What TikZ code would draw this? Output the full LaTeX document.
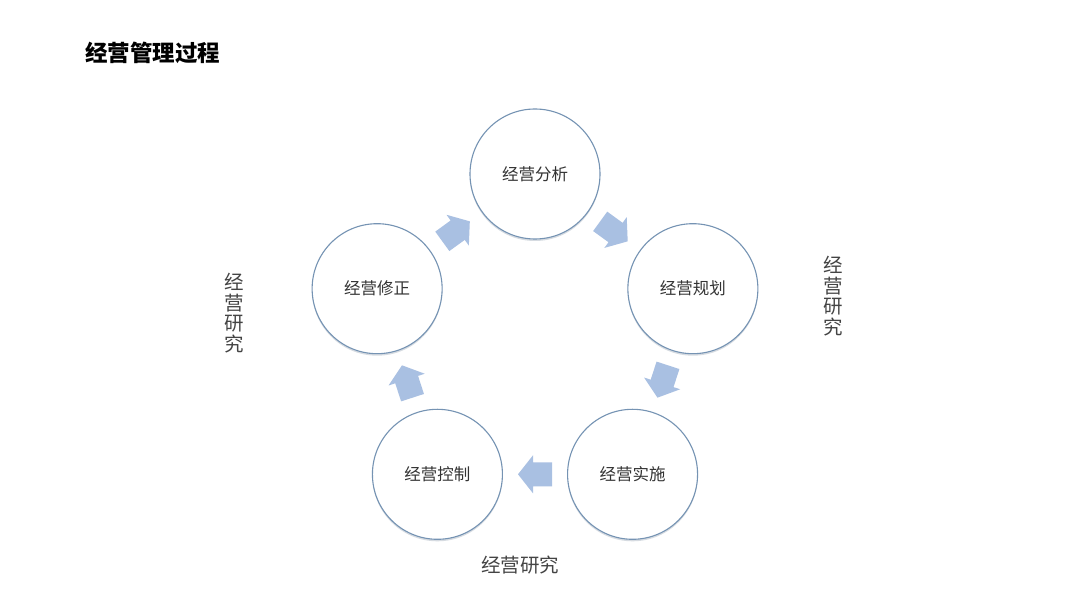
\documentclass[tikz,border=0pt]{standalone}
\usepackage{fontspec}
\setmainfont{Noto Sans CJK SC}
\newfontfamily\cjk{Noto Sans CJK SC}
\usetikzlibrary{shadows,calc}
\definecolor{ringc}{HTML}{7593B3}
\definecolor{arrowc}{HTML}{A9C0E2}
\definecolor{txtc}{HTML}{333333}
\definecolor{sidec}{HTML}{444444}
\tikzset{
  stage/.style={circle, draw=ringc, line width=1.1pt, fill=white, minimum size=130pt, inner sep=0pt,
    font=\cjk\fontsize{16.5}{19}\selectfont, text=txtc,
    drop shadow={shadow xshift=0pt, shadow yshift=-2pt, fill=ringc!60!gray, opacity=0.3}},
  blockarrow/.style={fill=arrowc, draw=none},
  sidetext/.style={font=\cjk\fontsize{19.5}{20.5}\selectfont, text=sidec, align=center, inner sep=0pt},
}
\newcommand{\cyclearrow}[3]{%
  \path[blockarrow, shift={($(#1)!0.5!(#2)$)}, rotate=#3]
    (-17,-12) -- (2,-12) -- (2,-19) -- (17,0) -- (2,19) -- (2,12) -- (-17,12) -- cycle;}
\begin{document}
\begin{tikzpicture}[x=1pt,y=1pt]
\useasboundingbox (0,0) rectangle (1080,608);
\fill[white] (0,0) rectangle (1080,608);
\node[anchor=west, inner sep=0pt, font=\cjk\bfseries\fontsize{22.5}{25}\selectfont] (title) at (85,555) {经营管理过程};
\coordinate (ctr) at (535,268);
\node[stage] (fx) at ($(ctr)+(90:166)$) {经营分析};
\node[stage] (gh) at ($(ctr)+(18:166)$) {经营规划};
\node[stage] (ss) at ($(ctr)+(-54:166)$) {经营实施};
\node[stage] (kz) at ($(ctr)+(-126:166)$) {经营控制};
\node[stage] (xz) at ($(ctr)+(162:166)$) {经营修正};
\cyclearrow{fx}{gh}{-36}
\cyclearrow{gh}{ss}{-108}
\cyclearrow{ss}{kz}{180}
\cyclearrow{kz}{xz}{108}
\cyclearrow{xz}{fx}{36}
\node[sidetext] (yjl) at (234,295) {经\\营\\研\\究};
\node[sidetext] (yjr) at (833,312) {经\\营\\研\\究};
\node[sidetext] (yjb) at (520,43) {经营研究};
\end{tikzpicture}
\end{document}
